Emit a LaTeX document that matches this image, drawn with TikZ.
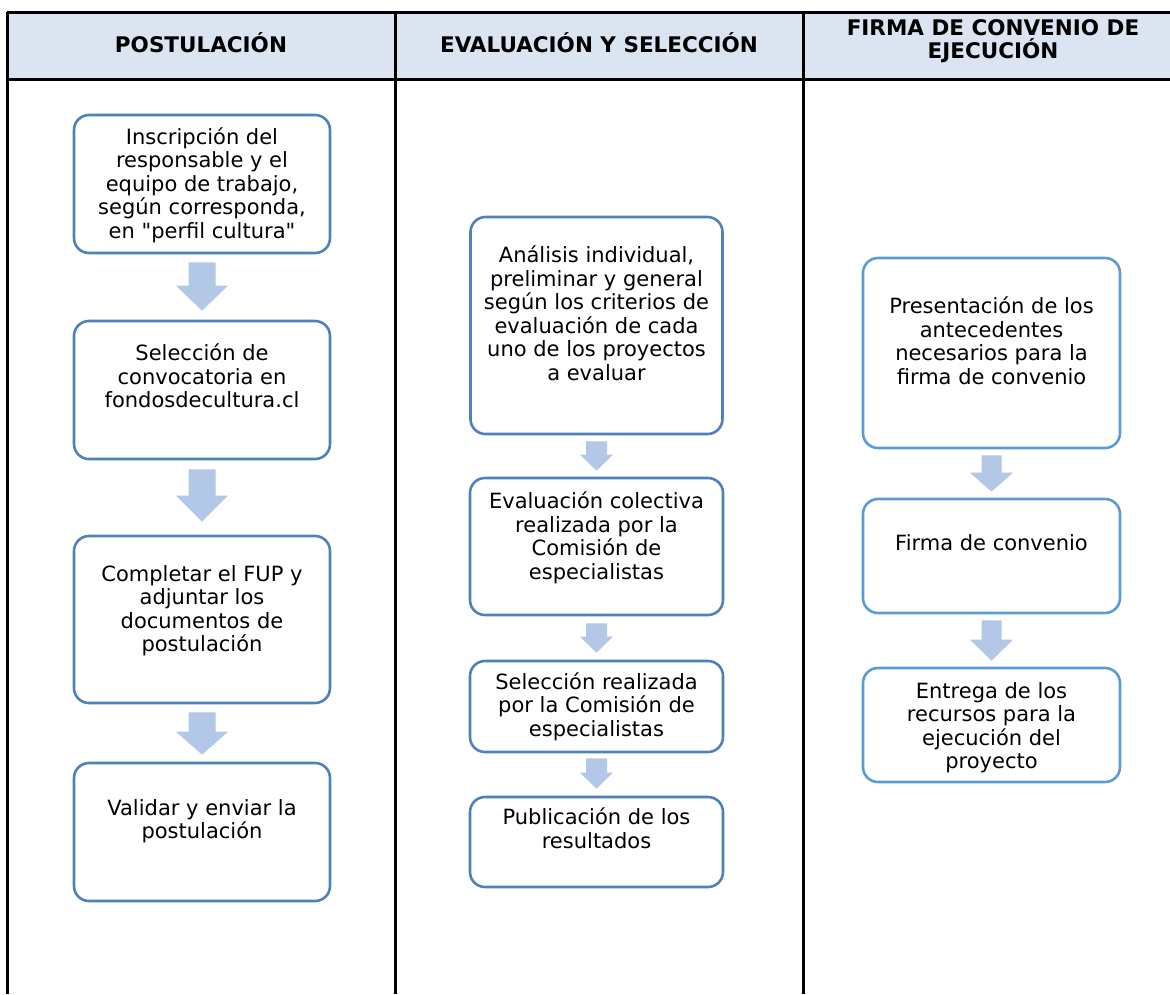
\documentclass[tikz,border=0pt]{standalone}
\usepackage{fontspec}
\setmainfont{DejaVu Sans}[Ligatures=TeXOff]
\usetikzlibrary{calc}
\definecolor{hdrfill}{HTML}{DBE5F1}
\definecolor{boxblue}{HTML}{4F81BD}
\definecolor{boxblueb}{HTML}{5B9BD5}
\definecolor{arrfill}{HTML}{B3C7E6}
\newcommand\blockarr[7]{%
  \fill[arrfill] let \p1=(#1.south), \p2=(#2.north) in
   (\x1-#5pt,\y1-#3pt) -- (\x1+#5pt,\y1-#3pt) -- (\x1+#5pt,\y2+#4pt+#7pt) --
   (\x1+#6pt,\y2+#4pt+#7pt) -- (\x1,\y2+#4pt) -- (\x1-#6pt,\y2+#4pt+#7pt) --
   (\x1-#5pt,\y2+#4pt+#7pt) -- cycle;}
\begin{document}
\begin{tikzpicture}[x=1pt,y=1pt,
  tbl/.style={line width=3pt,black},
  box/.style={draw=boxblue,line width=2.6pt,rounded corners=15pt,fill=white},
  boxb/.style={box,draw=boxblueb},
  txt/.style={align=center,inner sep=0pt,font=\fontsize{21}{23.5}\selectfont,
    execute at begin node=\strut, execute at end node=\strut},
  hdr/.style={align=center,inner sep=0pt,font=\fontsize{21.5}{23}\selectfont\bfseries,
    execute at begin node=\strut, execute at end node=\strut}]
\useasboundingbox (0,0) rectangle (1170,-994);
\fill[white] (0,0) rectangle (1170,-994);
% header
\fill[hdrfill] (7,-12) rectangle (1170,-79);
\draw[tbl] (7,-12) -- (1170,-12);
\draw[tbl] (7,-79) -- (1170,-79);
\draw[tbl] (7,-12) -- (7,-994);
\draw[tbl] (395,-12) -- (395,-994);
\draw[tbl] (803,-12) -- (803,-994);
\node[hdr] (h1) at (201,-46) {POSTULACIÓN};
\node[hdr] (h2) at (599,-46) {EVALUACIÓN Y SELECCIÓN};
\node[hdr] (h3) at (993,-42.5) {FIRMA DE CONVENIO DE\\EJECUCIÓN};
% column 1
\node[box,minimum width=256pt,minimum height=138pt] (b1) at (202,-184) {};
\node[box,minimum width=256pt,minimum height=138pt] (b2) at (202,-390) {};
\node[box,minimum width=256pt,minimum height=167pt] (b3) at (202,-619.5) {};
\node[box,minimum width=256pt,minimum height=138pt] (b4) at (202,-832) {};
\node[txt] (t1) at (202,-186.5) {Inscripción del\\responsable y el\\equipo de trabajo,\\según corresponda,\\en "perfil cultura"};
\node[txt] (t2) at (202,-379.5) {Selección de\\convocatoria en\\fondosdecultura.cl};
\node[txt] (t3) at (202,-612) {Completar el FUP y\\adjuntar los\\documentos de\\postulación};
\node[txt] (t4) at (202,-822.5) {Validar y enviar la\\postulación};
\blockarr{b1}{b2}{8}{9}{13.5}{26}{25}
\blockarr{b2}{b3}{9}{13}{13.5}{26}{26}
\blockarr{b3}{b4}{8}{7}{13.5}{26}{23}
% column 2
\node[box,minimum width=252pt,minimum height=217pt] (b5) at (596.5,-325.5) {};
\node[box,minimum width=253pt,minimum height=137pt] (b6) at (596.5,-546.5) {};
\node[box,minimum width=253pt,minimum height=91pt] (b7) at (596.5,-706.5) {};
\node[box,minimum width=253pt,minimum height=90pt] (b8) at (596.5,-842) {};
\node[txt] (t5) at (596.5,-316.5) {Análisis individual,\\preliminar y general\\según los criterios de\\evaluación de cada\\uno de los proyectos\\a evaluar};
\node[txt] (t6) at (596.5,-539) {Evaluación colectiva\\realizada por la\\Comisión de\\especialistas};
\node[txt] (t7) at (596.5,-708) {Selección realizada\\por la Comisión de\\especialistas};
\node[txt] (t8) at (596.5,-831.5) {Publicación de los\\resultados};
\blockarr{b5}{b6}{6}{6}{10.5}{16.5}{16}
\blockarr{b6}{b7}{7}{7}{10.5}{16.5}{16}
\blockarr{b7}{b8}{5}{7}{10.5}{16.5}{16}
% column 3
\node[boxb,minimum width=257pt,minimum height=190pt] (b9) at (991.5,-353) {};
\node[boxb,minimum width=257pt,minimum height=114pt] (b10) at (991.5,-556) {};
\node[boxb,minimum width=257pt,minimum height=114pt] (b11) at (991.5,-725) {};
\node[txt] (t9) at (991.5,-344) {Presentación de los\\antecedentes\\necesarios para la\\firma de convenio};
\node[txt] (t10) at (991.5,-546) {Firma de convenio};
\node[txt] (t11) at (991.5,-729) {Entrega de los\\recursos para la\\ejecución del\\proyecto};
\blockarr{b9}{b10}{6}{6}{10}{21.5}{19}
\blockarr{b10}{b11}{6}{6}{10}{21.5}{21}
\end{tikzpicture}
\end{document}
